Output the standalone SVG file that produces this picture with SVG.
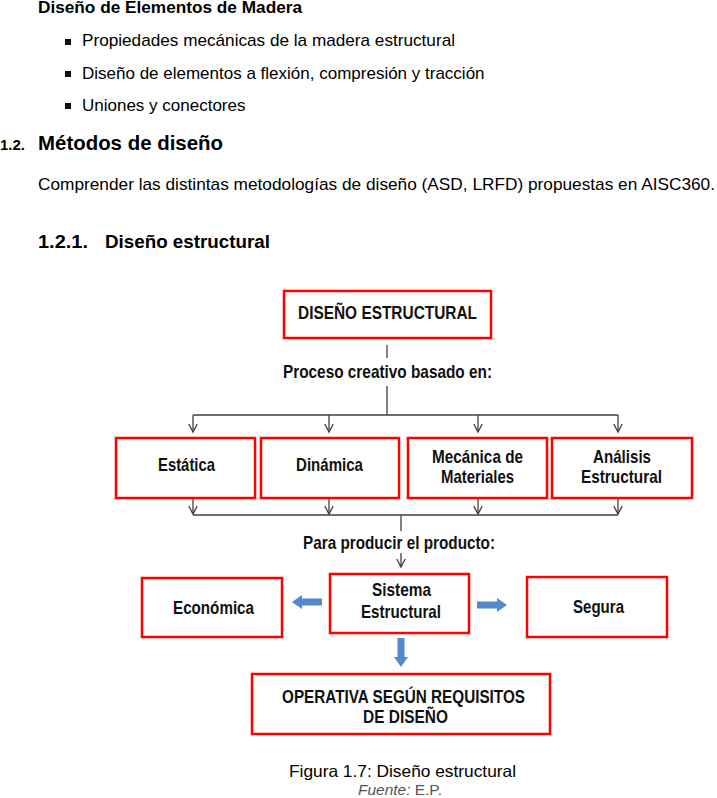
<svg xmlns="http://www.w3.org/2000/svg" width="717" height="798" viewBox="0 0 717 798">
<style>
.doc{font-family:"Liberation Sans",Arial,sans-serif;fill:#000}
.b{font-weight:bold}
.n{font-family:"Liberation Sans Narrow","Liberation Sans",Arial,sans-serif;font-weight:bold;font-size:18.5px;fill:#111;text-anchor:middle}
.box{fill:#fff;stroke:#ff0000;stroke-width:2.5}
.con{fill:none;stroke:#404040;stroke-width:1.3}
.blue{fill:#5588cc}
</style>
<defs>
<marker id="ah" markerUnits="userSpaceOnUse" markerWidth="14" markerHeight="14" refX="10" refY="7" orient="auto" viewBox="0 0 14 14">
<path d="M2,2.8 L10,7 L2,11.2" fill="none" stroke="#404040" stroke-width="1.3"/>
</marker>
</defs>
<g id="header">
<text class="doc b" x="38" y="13" font-size="17" textLength="264" lengthAdjust="spacingAndGlyphs">Diseño de Elementos de Madera</text>
<rect x="65" y="39" width="6" height="6" fill="#111"/>
<text class="doc" x="82" y="46" font-size="17" textLength="373" lengthAdjust="spacingAndGlyphs">Propiedades mecánicas de la madera estructural</text>
<rect x="65" y="71" width="6" height="6" fill="#111"/>
<text class="doc" x="82" y="79" font-size="17">Diseño de elementos a flexión, compresión y tracción</text>
<rect x="65" y="103" width="6" height="6" fill="#111"/>
<text class="doc" x="82" y="111" font-size="17">Uniones y conectores</text>
<text class="doc b" x="0" y="150" font-size="15">1.2.</text>
<text class="doc b" x="38" y="150" font-size="21" textLength="185" lengthAdjust="spacingAndGlyphs">Métodos de diseño</text>
<text class="doc" x="38" y="190" font-size="17" textLength="677" lengthAdjust="spacingAndGlyphs">Comprender las distintas metodologías de diseño (ASD, LRFD) propuestas en AISC360.</text>
<text class="doc b" x="38" y="248" font-size="18" textLength="50" lengthAdjust="spacingAndGlyphs">1.2.1.</text>
<text class="doc b" x="105" y="248" font-size="18" textLength="165" lengthAdjust="spacingAndGlyphs">Diseño estructural</text>
</g>
<g id="connectors">
<path class="con" d="M387,345 V358"/>
<path class="con" d="M387,386 V415 M193,415 H618"/>
<path class="con" d="M193,415 V432" marker-end="url(#ah)"/>
<path class="con" d="M329,415 V432" marker-end="url(#ah)"/>
<path class="con" d="M478,415 V432" marker-end="url(#ah)"/>
<path class="con" d="M618,415 V432" marker-end="url(#ah)"/>
<path class="con" d="M193,498 V514" marker-end="url(#ah)"/>
<path class="con" d="M329,498 V514" marker-end="url(#ah)"/>
<path class="con" d="M478,498 V514" marker-end="url(#ah)"/>
<path class="con" d="M618,498 V514" marker-end="url(#ah)"/>
<path class="con" d="M193,515 H618 M401,515 V531"/>
<path class="con" d="M401,553 V567" marker-end="url(#ah)"/>
<path class="blue" d="M322,598.5 H302 V595 L292,602 L302,609 V605.5 H322 Z"/>
<path class="blue" d="M477,601.5 H497 V598 L507,605 L497,612 V608.5 H477 Z"/>
<path class="blue" d="M397.5,638 V657 H394 L401,667 L408,657 H404.5 V638 Z"/>
</g>
<g id="diseno-estructural">
<rect class="box" x="284" y="291" width="207" height="47"/>
<text class="n" x="387.5" y="319" textLength="179" lengthAdjust="spacingAndGlyphs">DISEÑO ESTRUCTURAL</text>
</g>
<g id="proceso-label">
<text class="n" x="387.5" y="378" textLength="209" lengthAdjust="spacingAndGlyphs">Proceso creativo basado en:</text>
</g>
<g id="estatica">
<rect class="box" x="116" y="438" width="139" height="60"/>
<text class="n" x="186.5" y="471" textLength="57" lengthAdjust="spacingAndGlyphs">Estática</text>
</g>
<g id="dinamica">
<rect class="box" x="261" y="438" width="138" height="60"/>
<text class="n" x="329.5" y="471" textLength="67" lengthAdjust="spacingAndGlyphs">Dinámica</text>
</g>
<g id="mecanica">
<rect class="box" x="408" y="438" width="139" height="60"/>
<text class="n" x="477.5" y="463" textLength="91" lengthAdjust="spacingAndGlyphs">Mecánica de</text>
<text class="n" x="477.5" y="483" textLength="73" lengthAdjust="spacingAndGlyphs">Materiales</text>
</g>
<g id="analisis">
<rect class="box" x="552" y="438" width="140" height="60"/>
<text class="n" x="622" y="463" textLength="58" lengthAdjust="spacingAndGlyphs">Análisis</text>
<text class="n" x="621.5" y="483" textLength="81" lengthAdjust="spacingAndGlyphs">Estructural</text>
</g>
<g id="para-producir-label">
<text class="n" x="399" y="549" textLength="192" lengthAdjust="spacingAndGlyphs">Para producir el producto:</text>
</g>
<g id="sistema">
<rect class="box" x="330" y="574" width="139" height="59"/>
<text class="n" x="401.5" y="596" textLength="59" lengthAdjust="spacingAndGlyphs">Sistema</text>
<text class="n" x="401" y="618" textLength="80" lengthAdjust="spacingAndGlyphs">Estructural</text>
</g>
<g id="economica">
<rect class="box" x="142" y="578" width="140" height="59"/>
<text class="n" x="213.5" y="614" textLength="81" lengthAdjust="spacingAndGlyphs">Económica</text>
</g>
<g id="segura">
<rect class="box" x="527" y="577" width="140" height="60"/>
<text class="n" x="598.5" y="613" textLength="51" lengthAdjust="spacingAndGlyphs">Segura</text>
</g>
<g id="operativa">
<rect class="box" x="252" y="674" width="298" height="60"/>
<text class="n" x="403.5" y="703" textLength="243" lengthAdjust="spacingAndGlyphs">OPERATIVA SEGÚN REQUISITOS</text>
<text class="n" x="405.5" y="723" textLength="85" lengthAdjust="spacingAndGlyphs">DE DISEÑO</text>
</g>
<g id="caption">
<text class="doc" x="402.5" y="777" font-size="16.5" text-anchor="middle" textLength="227" lengthAdjust="spacingAndGlyphs">Figura 1.7: Diseño estructural</text>
<text x="400" y="795" font-family="Liberation Sans, Arial, sans-serif" font-size="15" fill="#555" text-anchor="middle" textLength="84" lengthAdjust="spacingAndGlyphs"><tspan font-style="italic">Fuente:</tspan> E.P.</text>
</g>
</svg>
